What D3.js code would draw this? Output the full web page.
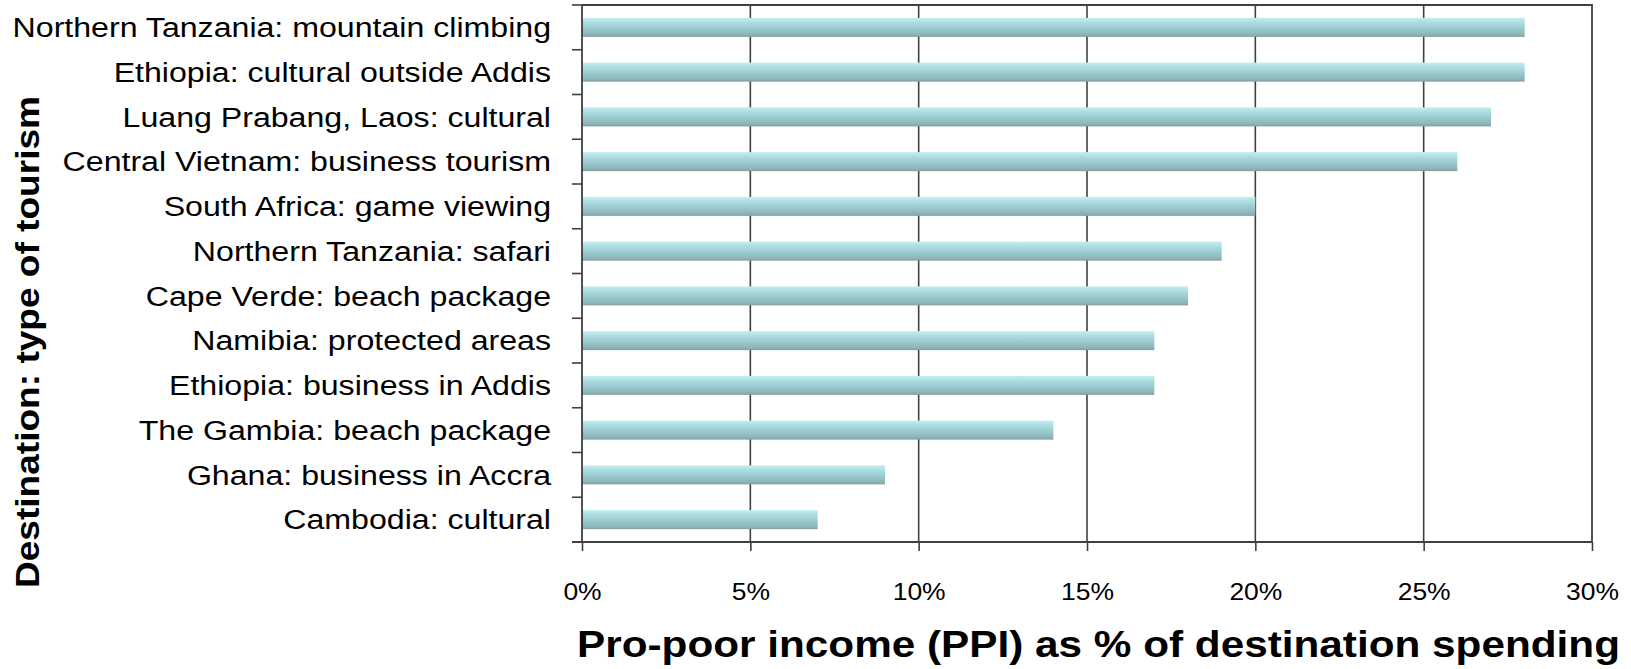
<!DOCTYPE html>
<html>
<head>
<meta charset="utf-8">
<script src="https://cdn.jsdelivr.net/npm/d3@7"></script>
<style>
  html, body { margin: 0; padding: 0; background: #fff; }
  svg { display: block; }
</style>
</head>
<body>
<div id="chart"></div>
<script>
const categories = [
  'Northern Tanzania: mountain climbing',
  'Ethiopia: cultural outside Addis',
  'Luang Prabang, Laos: cultural',
  'Central Vietnam: business tourism',
  'South Africa: game viewing',
  'Northern Tanzania: safari',
  'Cape Verde: beach package',
  'Namibia: protected areas',
  'Ethiopia: business in Addis',
  'The Gambia: beach package',
  'Ghana: business in Accra',
  'Cambodia: cultural'
];
const values = [28, 28, 27, 26, 20, 19, 18, 17, 17, 14, 9, 7];
const xTicks = [0, 5, 10, 15, 20, 25, 30];
const xTitle = 'Pro-poor income (PPI) as % of destination spending';
const yTitle = 'Destination: type of tourism';

const width = 1631;
const height = 669;
const margin = { top: 5, right: 39, bottom: 127, left: 582 };
const axisColor = '#404040';
// the source picture is stretched sideways, so text gets a horizontal scale
const labelStretch = 1.19;

const svg = d3.select('#chart').append('svg')
  .attr('width', width)
  .attr('height', height)
  .style('font-family', '"Liberation Sans", Arial, sans-serif');

const defs = svg.append('defs');
const grad = defs.append('linearGradient')
  .attr('id', 'barFill')
  .attr('x1', 0).attr('y1', 0).attr('x2', 0).attr('y2', 1);
grad.append('stop').attr('offset', '0%').attr('stop-color', '#c2eef2');
grad.append('stop').attr('offset', '30%').attr('stop-color', '#a9dade');
grad.append('stop').attr('offset', '85%').attr('stop-color', '#8db7ba');
grad.append('stop').attr('offset', '100%').attr('stop-color', '#849fa1');

const x = d3.scaleLinear()
  .domain([0, 30])
  .range([margin.left, width - margin.right]);

const y = d3.scaleBand()
  .domain(categories)
  .range([margin.top, height - margin.bottom])
  .paddingInner(0.575)
  .paddingOuter(0.2875);

const plotTop = margin.top;
const plotBottom = height - margin.bottom;

// vertical gridlines
svg.append('g')
  .selectAll('line')
  .data(xTicks.filter(t => t > 0 && t < 30))
  .join('line')
  .attr('x1', d => x(d)).attr('x2', d => x(d))
  .attr('y1', plotTop).attr('y2', plotBottom)
  .attr('stroke', axisColor)
  .attr('stroke-width', 1.6);

// frame: top and right edges
svg.append('path')
  .attr('d', `M${x(0)},${plotTop}H${x(30)}V${plotBottom}`)
  .attr('fill', 'none')
  .attr('stroke', axisColor)
  .attr('stroke-width', 1.8);

// bars
svg.append('g')
  .selectAll('rect')
  .data(values)
  .join('rect')
  .attr('x', x(0))
  .attr('y', (d, i) => y(categories[i]))
  .attr('width', d => x(d) - x(0))
  .attr('height', y.bandwidth())
  .attr('fill', 'url(#barFill)');

// x axis
const xAxis = svg.append('g')
  .attr('transform', `translate(0,${plotBottom})`)
  .call(d3.axisBottom(x)
    .tickValues(xTicks)
    .tickSize(9)
    .tickFormat(d => d + '%'));
xAxis.select('.domain').remove();
xAxis.append('line')
  .attr('x1', x(0) - 10).attr('x2', x(30))
  .attr('stroke', axisColor)
  .attr('stroke-width', 1.8);
xAxis.selectAll('.tick line')
  .attr('stroke', axisColor)
  .attr('stroke-width', 1.6);
xAxis.selectAll('.tick text')
  .attr('y', 0)
  .attr('dy', 0)
  .attr('fill', '#000')
  .style('font-size', '23px')
  .attr('transform', `translate(0,58) scale(1.15,1)`);

// y axis: line plus ticks at the band boundaries
const yAxis = svg.append('g');
yAxis.append('line')
  .attr('x1', x(0)).attr('x2', x(0))
  .attr('y1', plotTop).attr('y2', plotBottom)
  .attr('stroke', axisColor)
  .attr('stroke-width', 1.8);
const step = y.step();
yAxis.selectAll('line.tick')
  .data(d3.range(categories.length + 1))
  .join('line')
  .attr('class', 'tick')
  .attr('x1', x(0) - 10).attr('x2', x(0))
  .attr('y1', i => plotTop + i * step)
  .attr('y2', i => plotTop + i * step)
  .attr('stroke', axisColor)
  .attr('stroke-width', 1.6);

// category labels
svg.append('g')
  .selectAll('text')
  .data(categories)
  .join('text')
  .attr('transform', d => `translate(551,${y(d) + y.bandwidth() / 2}) scale(${labelStretch},1)`)
  .attr('text-anchor', 'end')
  .attr('dy', '0.36em')
  .style('font-size', '27px')
  .text(d => d);

// axis titles
svg.append('text')
  .attr('x', 577)
  .attr('y', 657)
  .attr('textLength', 1043)
  .attr('lengthAdjust', 'spacingAndGlyphs')
  .style('font-size', '37px')
  .style('font-weight', 'bold')
  .text(xTitle);

svg.append('text')
  .attr('transform', 'translate(39,342) rotate(-90)')
  .attr('text-anchor', 'middle')
  .attr('textLength', 492)
  .attr('lengthAdjust', 'spacingAndGlyphs')
  .style('font-size', '33px')
  .style('font-weight', 'bold')
  .text(yTitle);
</script>
</body>
</html>
